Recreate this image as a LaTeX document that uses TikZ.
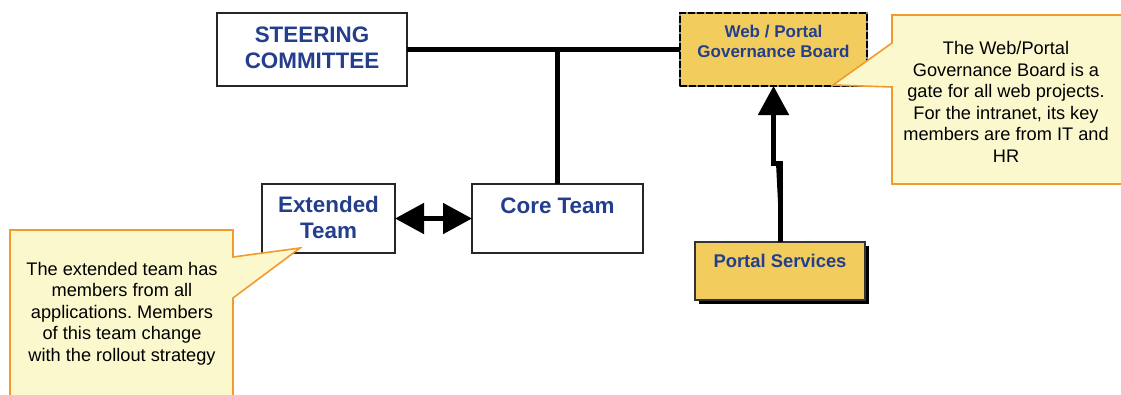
\documentclass[tikz,border=0pt]{standalone}
\usepackage{fontspec}
\setmainfont{Liberation Sans}
\usetikzlibrary{arrows.meta,shadows}
\definecolor{navy}{HTML}{233F8C}
\definecolor{gold}{HTML}{F2CD5E}
\definecolor{notefill}{HTML}{FBF8CE}
\definecolor{noteline}{HTML}{F39A2B}
\frenchspacing
\tikzset{
  orgbox/.style={draw=black!85, line width=1.8pt, fill=white, inner sep=0pt, outer sep=0pt},
  goldbox/.style={draw=black!80, line width=2.5pt, fill=gold, inner sep=0pt, outer sep=0pt},
  boxlabel/.style={text=navy, align=center, anchor=base, inner sep=0pt},
  bigfont/.style={font=\bfseries\fontsize{22.4}{26}\selectfont},
  smallbold/.style={font=\bfseries\fontsize{17}{20}\selectfont},
  note/.style={draw=noteline, line width=1.6pt, fill=notefill, line join=miter},
  notetext/.style={align=center, anchor=base, inner sep=0pt, font=\fontsize{18.2}{21.5}\selectfont},
  link/.style={line width=5pt, draw=black},
  bigtip/.style={line width=5pt, draw=black, fill=black},
}
\begin{document}
\begin{tikzpicture}[x=1pt,y=-1pt]
\useasboundingbox (0,0) rectangle (1121,394);

% boxes
\node[orgbox, minimum width=190, minimum height=73] (steer) at (312,49.5) {};
\node[orgbox, minimum width=133, minimum height=69] (ext) at (328.5,218.5) {};
\node[orgbox, minimum width=171, minimum height=69] (core) at (557.5,218.5) {};
\node[goldbox, draw=black!45, minimum width=187, minimum height=73,
      postaction={draw=black, dash pattern=on 6pt off 3pt}] (board) at (773.5,49.5) {};
\node[goldbox, minimum width=170, minimum height=58,
      drop shadow={shadow xshift=4pt, shadow yshift=-4pt, fill=black, opacity=1}] (portal) at (780,271) {};

% box labels (anchored at the baseline of the last line)
\node[boxlabel, bigfont] (steerlbl) at (312,68) {STEERING\\COMMITTEE};
\node[boxlabel, bigfont] (extlbl) at (328.5,238) {Extended\\Team};
\node[boxlabel, bigfont] (corelbl) at (557.5,213) {Core Team};
\node[boxlabel, smallbold] (boardlbl) at (773.5,57) {Web / Portal\\Governance Board};
\node[boxlabel, font=\bfseries\fontsize{18.4}{22}\selectfont] (portallbl) at (780,267.5) {Portal Services};

% connectors
\coordinate (jog) at (0,163);
\draw[link] (steer.east) -- (board.west);
\draw[link] (core.north) -- (core.north |- steer.east);
\draw[bigtip, {Triangle[length=29pt,width=30pt]}-{Triangle[length=29pt,width=30pt]}] (ext.east) -- (core.west);
\draw[bigtip, -{Triangle[length=29pt,width=30pt]}] (portal.north) -- (portal.north |- jog) -- (board.south |- jog) -- (board.south);

% redraw the dashed border on top of the line ends
\draw[draw=black, line width=2.5pt, dash pattern=on 6pt off 3pt] (board.south west) rectangle (board.north east);

% callouts
\draw[note] (892,15) -- (1135,15) -- (1135,184) -- (892,184) -- (892,87) -- (833,85) -- (892,43) -- cycle;
\node[notetext] (boardnote) at (1006,162) {The Web/Portal\\Governance Board is a\\gate for all web projects.\\For the intranet, its key\\members are from IT and\\HR};

\draw[note] (10,410) -- (10,230) -- (233,230) -- (233,257) -- (300,248) -- (233,298) -- (233,410) -- cycle;
\node[notetext] (extnote) at (122,361) {The extended team has\\members from all\\applications. Members\\of this team change\\with the rollout strategy};
\end{tikzpicture}
\end{document}
